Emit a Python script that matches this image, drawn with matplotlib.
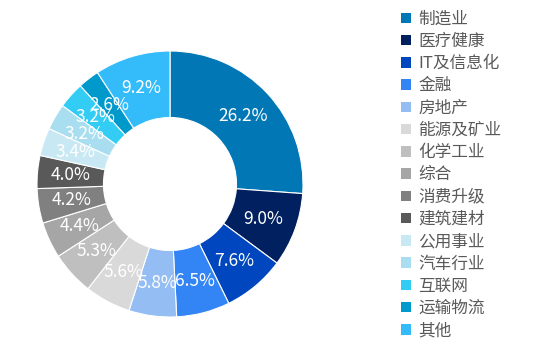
import matplotlib.pyplot as plt
import matplotlib.patches as patches

plt.rcParams['font.family'] = ['Noto Sans CJK SC', 'DejaVu Sans']

# 行业分布
industries = ['制造业', '医疗健康', 'IT及信息化', '金融', '房地产', '能源及矿业', '化学工业',
              '综合', '消费升级', '建筑建材', '公用事业', '汽车行业', '互联网', '运输物流', '其他']
shares = [26.2, 9.0, 7.6, 6.5, 5.8, 5.6, 5.3, 4.4, 4.2, 4.0, 3.4, 3.2, 3.2, 2.6, 9.2]
colors = ['#0277B6', '#002060', '#0046BE', '#3385F5', '#93BDF3', '#D9D9D9', '#BFBFBF',
          '#A6A6A6', '#808080', '#595959', '#C8E9F3', '#A8DEF0', '#33CCF5', '#0099CC', '#33BBFA']

fig = plt.figure(figsize=(5.45, 3.48), dpi=100)
W, H = 545, 348
cx, cy, r = 170, 184, 133
ax = fig.add_axes([(cx - r) / W, (H - cy - r) / H, 2 * r / W, 2 * r / H])

wedges, texts = ax.pie(shares, colors=colors, startangle=90, counterclock=False,
                       radius=1.0, labels=[f'{v:.1f}%' for v in shares],
                       labeldistance=0.75,
                       wedgeprops=dict(width=0.5, edgecolor='white', linewidth=0.8),
                       textprops=dict(color='white', fontsize=12.5))
for t in texts:
    t.set_ha('center')
    t.set_va('center')
ax.set_xlim(-1, 1)
ax.set_ylim(-1, 1)
ax.set_aspect('equal')

handles = [patches.Patch(facecolor=c, edgecolor='none') for c in colors]
leg = fig.legend(handles, industries, loc='upper left', bbox_to_anchor=(394 / W, 1 - 4 / H),
                 frameon=False, fontsize=12, labelspacing=0.315, handlelength=0.6,
                 handleheight=0.6, handletextpad=0.45, borderaxespad=0)
for t in leg.get_texts():
    t.set_color('#595959')

fig.savefig('out.png', dpi=100)
